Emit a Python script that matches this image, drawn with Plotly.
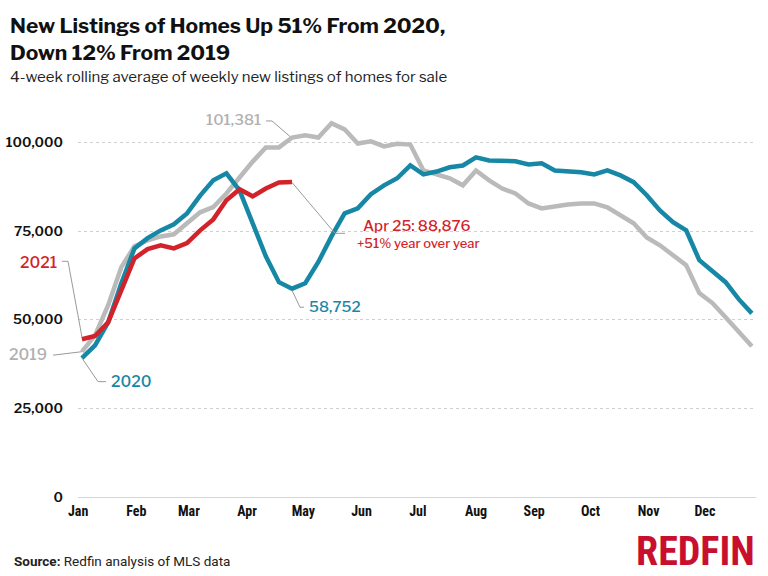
import plotly.graph_objects as go
import datetime as dt

# ---------------- data ----------------
week_dates = [(dt.date(2021, 1, 3) + dt.timedelta(days=7 * k)).isoformat() for k in range(52)]

listings_2019 = [41000, 45600, 54100, 64800, 70700, 72400, 73500, 74100, 77200, 80300,
                 81800, 85600, 90100, 94600, 98600, 98600, 101381, 102000, 101400, 105400,
                 103700, 99700, 100300, 98900, 99600, 99400, 92100, 91000, 89900, 87900,
                 92100, 89300, 87000, 85600, 82800, 81400, 82100, 82500, 82800, 82800,
                 81700, 79400, 77200, 73200, 71000, 68200, 65400, 57500, 54700, 50700,
                 46800, 42500]

listings_2020 = [39200, 42800, 49300, 60300, 70100, 73000, 75200, 76900, 80000, 85000,
                 89300, 91300, 86500, 76900, 67900, 60600, 58752, 60300, 66300, 73500,
                 80000, 81400, 85400, 87900, 89900, 93500, 91000, 91800, 93000, 93500,
                 95800, 94900, 94900, 94700, 93800, 94100, 92100, 92000, 91600, 91000,
                 92100, 90700, 88800, 85100, 80800, 77500, 75200, 66800, 63900, 60600,
                 55800, 51800]

listings_2021 = [44500, 45400, 49300, 58300, 67300, 69900, 71000, 70100, 71600, 75200,
                 78300, 83700, 86800, 84800, 87000, 88700, 88876]

y_ticks = [0, 25000, 50000, 75000, 100000]
month_ticks = ["2021-%02d-01" % m for m in range(1, 13)]

# ---------------- style ----------------
GRAY = "#bababa"
BLUE = "#1787a6"
RED = "#d2232a"
LEADER = "#9a9a9a"
W, H = 768, 576
L, R, T, B = 78, 12, 106.5, 79


def px(xp):
    return (xp - L) / (W - L - R)


def py(yp):
    return (H - B - yp) / (H - B - T)


fig = go.Figure()
fig.add_trace(go.Scatter(x=week_dates, y=listings_2019, mode="lines",
                         line=dict(color=GRAY, width=4.5), name="2019", hoverinfo="skip"))
fig.add_trace(go.Scatter(x=week_dates, y=listings_2020, mode="lines",
                         line=dict(color=BLUE, width=4.5), name="2020", hoverinfo="skip"))
fig.add_trace(go.Scatter(x=week_dates[:len(listings_2021)], y=listings_2021, mode="lines",
                         line=dict(color=RED, width=4.5), name="2021", hoverinfo="skip"))

font_main = "Libre Franklin, Inter, Roboto, sans-serif"
font_narrow = "Liberation Sans Narrow, Roboto Condensed, Roboto, sans-serif"


def note(xp, yp, text, size, color, xanchor="left", yanchor="middle", family=font_main,
         align="left", weight="normal"):
    return dict(x=px(xp), y=py(yp), xref="paper", yref="paper", xanchor=xanchor, yanchor=yanchor,
                text=text, showarrow=False, align=align,
                font=dict(family=family, size=size, color=color, weight=weight))


annotations = [
    note(8, 10, "<b>New Listings of Homes Up 51% From 2020,<br>Down 12% From 2019</b>", 21, "#111",
         yanchor="top"),
    note(8, 65, "4-week rolling average of weekly new listings of homes for sale", 15, "#222",
         yanchor="top"),
    note(59, 262, "2021", 15.5, RED, xanchor="right", weight=500),
    note(49, 354, "2019", 15.5, "#b0b0b0", xanchor="right", weight=500),
    note(109, 381, "2020", 15.5, BLUE, weight=500),
    note(263, 120, "101,381", 15, "#b0b0b0", xanchor="right", weight=500),
    note(307, 307, "58,752", 15, BLUE, weight=500),
    note(417, 226, "Apr 25: 88,876", 15, RED, xanchor="center", weight=500),
    note(418, 243, "+51% year over year", 13, RED, xanchor="center", weight=500),
    note(12, 561, "<b>Source:</b> Redfin analysis of MLS data", 13.5, "#222", family="Roboto"),
    note(757, 552, "<b>REDFIN</b>", 40, "#c8102e", xanchor="right", family=font_narrow),
]


def leader(points):
    path = "M " + " L ".join("%f,%f" % (px(a), py(b)) for a, b in points)
    return dict(type="path", xref="paper", yref="paper", path=path,
                line=dict(color=LEADER, width=1))


shapes = [
    leader([(62, 261), (68, 261), (82, 337)]),
    leader([(53, 355), (82, 351.5)]),
    leader([(82, 358), (98, 381.5), (106, 381.5)]),
    leader([(266, 120.5), (272, 120.5), (290, 136)]),
    leader([(292, 290), (300, 307), (304, 307)]),
    leader([(292, 182), (335, 233), (345, 233)]),
]

fig.update_layout(
    width=W, height=H,
    margin=dict(l=L, r=R, t=T, b=B, autoexpand=False),
    paper_bgcolor="white", plot_bgcolor="white",
    showlegend=False,
    annotations=annotations,
    shapes=shapes,
    xaxis=dict(type="date", range=["2020-12-31 22:00", "2021-12-28 05:00"], automargin=False,
               tickvals=month_ticks, tickformat="%b", showgrid=False, zeroline=False,
               showline=False, ticks="",
               tickfont=dict(family=font_narrow, size=14, color="#111", weight="bold"),
               ticklabelstandoff=4),
    yaxis=dict(range=[0, 110000], tickvals=y_ticks, tickformat=",", showgrid=True, automargin=False,
               gridcolor="#cfcfcf", griddash="dot", gridwidth=1, zeroline=True,
               zerolinecolor="#d6d6d6", zerolinewidth=1, showline=False, ticks="",
               tickfont=dict(family=font_main, size=13.5, color="#111", weight=600),
               ticklabelstandoff=14),
)

fig.write_html("out.html", config={"displayModeBar": False},
               post_script="document.body.style.margin='0px';")
